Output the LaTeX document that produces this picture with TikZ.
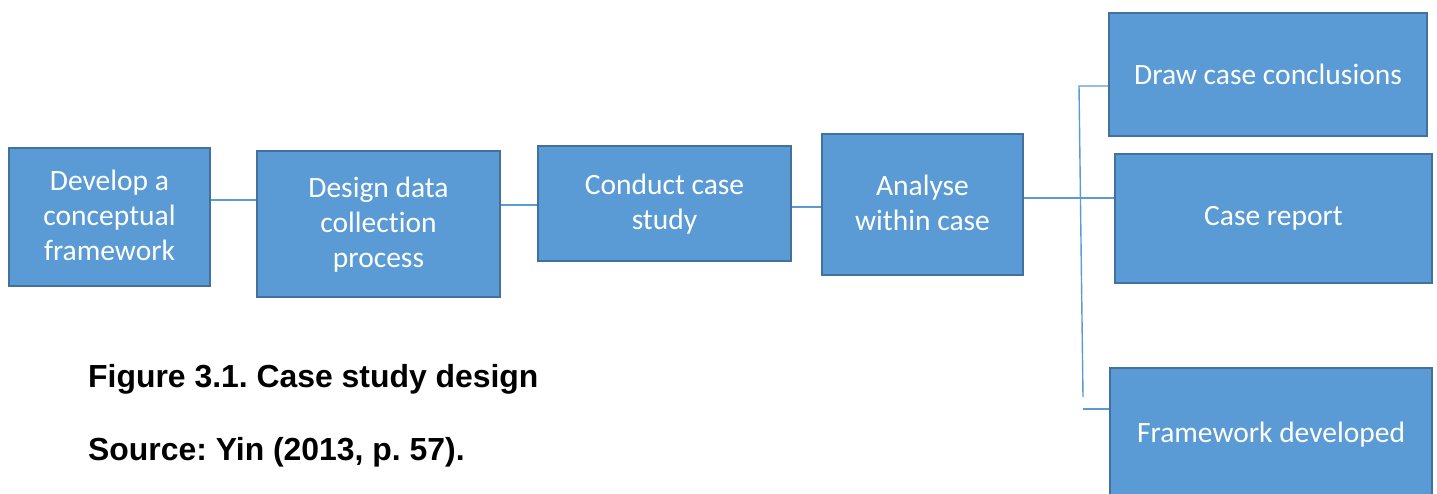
\documentclass[tikz,border=0pt]{standalone}
\usepackage{fontspec}
\setmainfont{Carlito}[Ligatures=NoCommon]
\newfontfamily\capfont{Liberation Sans}
\definecolor{boxfill}{HTML}{5B9BD5}
\definecolor{boxline}{HTML}{41719C}
\definecolor{connline}{HTML}{5B9BD5}
\frenchspacing
\begin{document}
\begin{tikzpicture}[x=1pt,y=-1pt,
  box/.style={rectangle, draw=boxline, line width=2pt, fill=boxfill, text=white,
    align=center, inner sep=0pt, inner ysep=0pt, font=\fontsize{29.5}{35}\selectfont},
  conn/.style={draw=connline, line width=1.4pt},
  captxt/.style={anchor=base west, inner sep=0pt, font=\capfont\bfseries\fontsize{31.9}{36}\selectfont}]
\clip (0,0) rectangle (1437,493);
\useasboundingbox (0,0) rectangle (1437,493);
\node[box, minimum width=201pt, minimum height=138pt, text depth=3pt] (b1) at (109.5,217) {Develop a\\conceptual\\framework};
\node[box, minimum width=243pt, minimum height=146pt, text depth=3pt] (b2) at (378.5,224) {Design data\\collection\\process};
\node[box, minimum width=253pt, minimum height=115pt, text depth=3pt] (b3) at (664.5,203.5) {Conduct case\\study};
\node[box, minimum width=201pt, minimum height=141pt, text depth=3pt] (b4) at (922.5,204.5) {Analyse\\within case};
\node[box, minimum width=318pt, minimum height=123pt] (r1) at (1268,74.5) {Draw case conclusions};
\node[box, minimum width=317pt, minimum height=129pt] (r2) at (1273.5,218.5) {Case report};
\node[box, minimum width=322pt, minimum height=134pt] (r3) at (1271,435) {Framework developed};
\coordinate (vtop) at (1079,86);
\coordinate (vbot) at (1083,397);
\coordinate (hbot) at (1083,409);
\draw[conn] (b1.east |- 0,200) -- (b2.west |- 0,200);
\draw[conn] (b2.east |- 0,205) -- (b3.west |- 0,205);
\draw[conn] (b3.east |- 0,207) -- (b4.west |- 0,207);
\draw[conn] (b4.east |- 0,198) -- (r2.west |- 0,198);
\draw[conn] (r1.west |- vtop) -- (vtop) -- (vbot);
\draw[conn] (hbot) -- (r3.west |- hbot);
\node[captxt] (cap) at (88,387) {Figure 3.1. Case study design};
\node[captxt] (src) at (88,460) {Source: Yin (2013, p. 57).};
\end{tikzpicture}
\end{document}
